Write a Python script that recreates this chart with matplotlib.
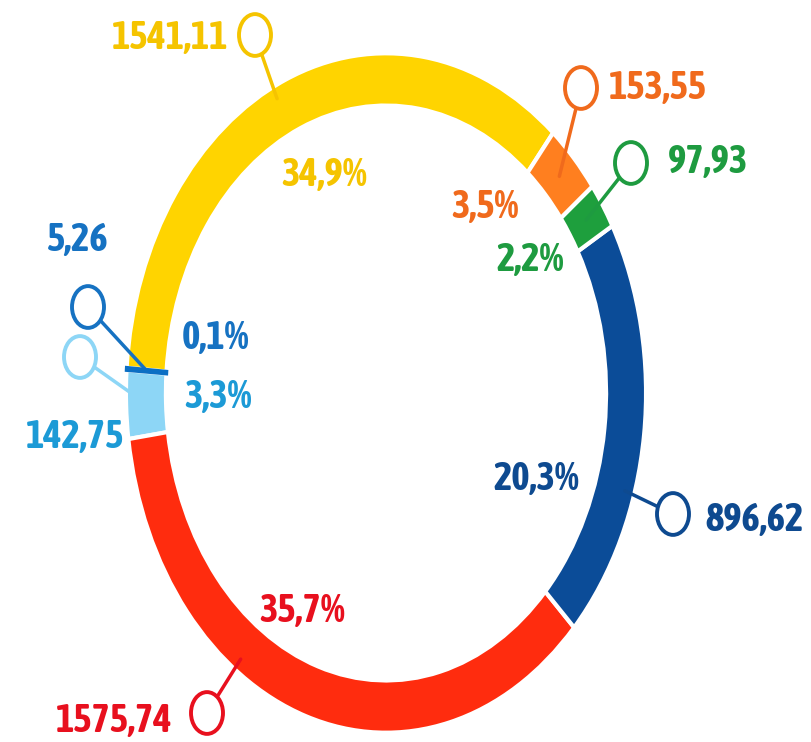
import matplotlib
matplotlib.use("Agg")
import matplotlib.pyplot as plt
from matplotlib import font_manager
from matplotlib.patches import Circle
import numpy as np

# segments in drawing order (counter-clockwise, starting with the yellow one)
segments = ["yellow", "small blue", "light blue", "red", "blue", "green", "orange"]
values = [1541.11, 5.26, 142.75, 1575.74, 896.62, 97.93, 153.55]
percents = [34.9, 0.1, 3.3, 35.7, 20.3, 2.2, 3.5]

ring_colors = ["#FFD400", "#0B6FC4", "#8DD6F6", "#FF2C0E", "#0B4C98", "#1E9F3D", "#FF7F1F"]
text_colors = ["#F5C400", "#1672C2", "#1C9AD6", "#E8101E", "#0E4A90", "#1E9B40", "#F06A1C"]
marker_colors = ["#F5C400", "#1672C2", "#8DD6F6", "#E8101E", "#0E4A90", "#1E9B40", "#F06A1C"]


def _w(f):
    w = f.weight
    if isinstance(w, str):
        w = font_manager.weight_dict.get(w, 400)
    return w


# the original uses a narrow bold face; take a condensed bold one if there is any
narrow = []
for f in font_manager.fontManager.ttflist:
    cond = ("Narrow" in f.name or "Condensed" in f.name
            or f.stretch in ("condensed", "semi-condensed", "extra-condensed"))
    if cond and _w(f) >= 600 and f.style == "normal":
        narrow.append((f.name, f.stretch))
narrow.sort()
STRETCH = "normal"
if narrow:
    FONT, STRETCH = narrow[0]
    FS = 28
else:
    FONT, FS = "Liberation Sans", 24
plt.rcParams['font.family'] = [FONT, 'DejaVu Sans']

# ring centre / radii in pixels (the ring is drawn stretched, like the original)
CX, CY, RX, RY = 386, 393, 258, 337


def px(x, y):
    return (x - CX) / RX, (CY - y) / RY


def fmt(v, nd):
    return f"{v:.{nd}f}".replace(".", ",")


# layout: value label (x, y, ha), percent label centre, marker centre, connector angle
value_pos = [(228, 38, "right"), (78, 240, "center"), (75, 437, "center"),
             (172, 721, "right"), (705, 520, "left"), (668, 162, "left"), (609, 88, "left")]
pct_pos = [(324, 175), (216, 338), (218, 397), (302, 611), (536, 479), (530, 260), (485, 207)]
marker_pos = [(255, 35), (88, 307), (80, 357), (207, 713), (673, 514), (631, 163), (581, 88)]
link_angle = [115.8, None, None, 234.5, -17.4, None, None]

fig = plt.figure(figsize=(8.12, 7.42), dpi=100)
ax = fig.add_axes([0, 0, 1, 1])

wedges, _ = ax.pie(values, colors=ring_colors, startangle=50, counterclock=True,
                   radius=1.008,
                   wedgeprops=dict(width=0.155, edgecolor="white", linewidth=3))
# keep the very thin slice visible
wedges[1].set_edgecolor(ring_colors[1])
wedges[1].set_linewidth(2.5)
wedges[1].set_zorder(3)

ax.set_aspect("auto")
ax.set_xlim(-CX / RX, (812 - CX) / RX)
ax.set_ylim(-(742 - CY) / RY, CY / RY)
ax.axis("off")

for i, w in enumerate(wedges):
    mx, my = px(*marker_pos[i])
    if link_angle[i] is None:
        ang = np.deg2rad((w.theta1 + w.theta2) / 2)
        r = 0.93
    else:
        ang = np.deg2rad(link_angle[i])
        r = 0.97
    ax.plot([mx, r * np.cos(ang)], [my, r * np.sin(ang)], color=marker_colors[i],
            lw=2.5, zorder=1, solid_capstyle="round")
    ax.add_patch(Circle((mx, my), 0.062, facecolor="white", edgecolor=marker_colors[i],
                        lw=2.8, zorder=4))

    vx, vy, ha = value_pos[i]
    ax.text(*px(vx, vy), fmt(values[i], 2), color=text_colors[i], fontsize=FS,
            fontweight="bold", fontstretch=STRETCH, ha=ha, va="center", zorder=5)
    ax.text(*px(*pct_pos[i]), fmt(percents[i], 1) + "%", color=text_colors[i],
            fontsize=FS, fontweight="bold", fontstretch=STRETCH,
            ha="center", va="center", zorder=5)

fig.savefig("out.png", dpi=100)
